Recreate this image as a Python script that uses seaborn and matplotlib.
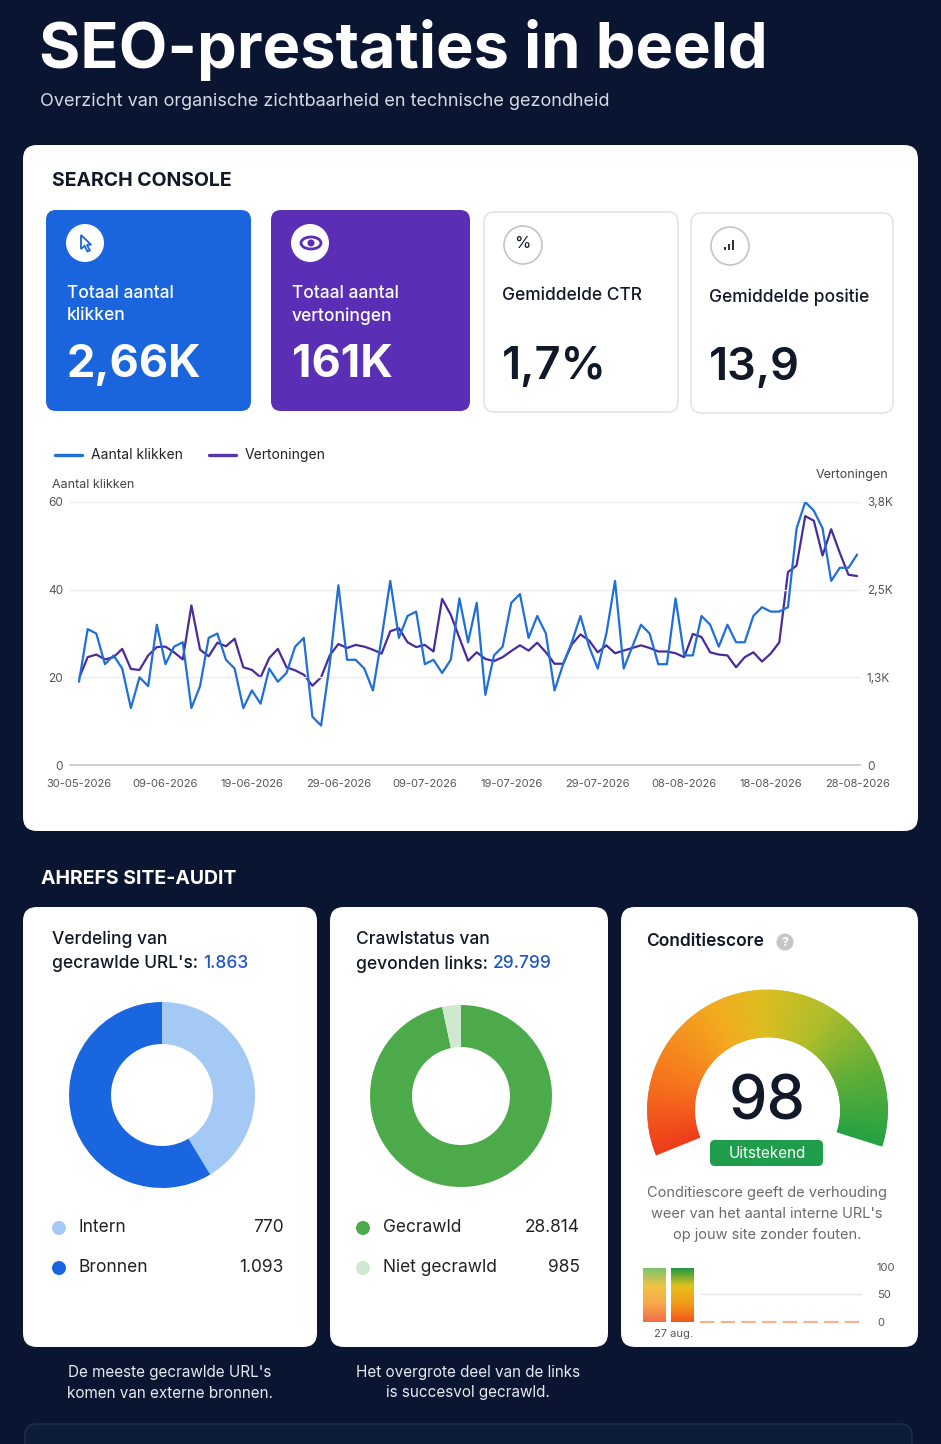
import numpy as np
import pandas as pd
import matplotlib
matplotlib.use("Agg")
import matplotlib.pyplot as plt
import seaborn as sns
from matplotlib.patches import FancyBboxPatch, Circle, Wedge, Polygon, Ellipse, Rectangle
from matplotlib.colors import LinearSegmentedColormap
import matplotlib.dates as mdates

# ---------------- data ----------------
start_date = "2026-05-30"
clicks = [19, 31, 30, 23, 25, 22, 13, 20, 18, 32, 23, 27, 28, 13, 18, 29, 30, 24, 22, 13,
          17, 14, 22, 19, 21, 27, 29, 11, 9, 23, 41, 24, 24, 22, 17, 29, 42, 29, 34, 35,
          23, 24, 21, 24, 38,
          28, 37, 16, 25, 27, 37, 39, 29, 34, 30, 17, 23, 28, 34, 27, 22, 30, 42, 22, 27,
          32, 30, 23, 23, 38, 25, 25, 34, 32, 27, 32, 28, 28, 34, 36, 35, 35, 36, 54, 60,
          58, 54, 42, 45, 45, 48]
impressions = [1254, 1558, 1596, 1526, 1558, 1678, 1387, 1374, 1583, 1704, 1710, 1628, 1526, 2305,
               1666, 1571, 1767, 1716, 1824, 1412, 1374, 1267, 1545, 1678, 1412, 1368, 1305, 1146,
               1267, 1583, 1748, 1691, 1735, 1710, 1666, 1609, 1932, 1976, 1773, 1704, 1735, 1640,
               2400, 2170, 1837,
               1507, 1628, 1533, 1501, 1558, 1647, 1729, 1653, 1767, 1628, 1463, 1463, 1742, 1887,
               1799, 1628, 1729, 1615, 1653, 1691, 1729, 1691, 1640, 1640, 1615, 1558, 1894, 1849,
               1628, 1596, 1583, 1412, 1558, 1628, 1495, 1609, 1773, 2787, 2882, 3597, 3528, 3027,
               3407, 3065, 2749, 2730]
clicks_ticks = [0, 20, 40, 60]
impr_ticks = [0, 1266.67, 2533.33, 3800]
impr_tick_labels = ["0", "1,3K", "2,5K", "3,8K"]

kpi_labels = ["Totaal aantal\nklikken", "Totaal aantal\nvertoningen", "Gemiddelde CTR", "Gemiddelde positie"]
kpi_values = ["2,66K", "161K", "1,7%", "13,9"]

url_labels = ["Intern", "Bronnen"]
url_values = [770, 1093]
link_labels = ["Gecrawld", "Niet gecrawld"]
link_values = [28814, 985]
health_score = 98
score_history = [98, 98]
score_ticks = [0, 50, 100]


def nl(v):
    return f"{v:,}".replace(",", ".")


# ---------------- figure ----------------
W, H = 941, 1444
sns.set_theme(style="white")
plt.rcParams['font.family'] = ['Inter', 'DejaVu Sans']

fig = plt.figure(figsize=(W / 100, H / 100), dpi=100)
fig.patch.set_facecolor('#0a1631')
bg = fig.add_axes([0, 0, 1, 1])
bg.set_xlim(0, W)
bg.set_ylim(H, 0)
bg.axis('off')

DARK = '#111827'


def card(x0, y0, x1, y1, fc='white', ec='none', r=14, lw=1, z=1):
    p = FancyBboxPatch((x0 + r, y0 + r), (x1 - x0 - 2 * r), (y1 - y0 - 2 * r),
                       boxstyle=f"round,pad={r}", fc=fc, ec=ec, lw=lw, zorder=z)
    bg.add_patch(p)
    return p


def ax_at(x0, y0, x1, y1):
    a = fig.add_axes([x0 / W, 1 - y1 / H, (x1 - x0) / W, (y1 - y0) / H])
    a.set_facecolor('none')
    return a


def txt(x, y, s, size, color=DARK, weight='normal', ha='left', va='center', **kw):
    return bg.text(x, y, s, fontsize=size, color=color, fontweight=weight, ha=ha, va=va, **kw)


# header
txt(39, 50, "SEO-prestaties in beeld", 45.5, 'white', 'bold')
txt(40, 102, "Overzicht van organische zichtbaarheid en technische gezondheid", 13, '#d6dae4')

# search console card
card(23, 145, 918, 831, r=14)
txt(52, 181, "SEARCH CONSOLE", 14, DARK, 'bold')

kpi_boxes = [(46, 210, 251, 411, '#1a65dd', 'none'),
             (271, 210, 470, 411, '#5a2eb5', 'none'),
             (484, 212, 678, 412, 'white', '#e2e4e9'),
             (691, 213, 893, 413, 'white', '#e2e4e9')]
for i, (x0, y0, x1, y1, fc, ec) in enumerate(kpi_boxes):
    card(x0, y0, x1, y1, fc=fc, ec=ec, r=10, lw=1.2, z=2)
    tc = 'white' if i < 2 else DARK
    cx, cy = x0 + 39, y0 + 33
    if i < 2:
        bg.add_patch(Circle((cx, cy), 19, fc='white', ec='none', zorder=3))
    else:
        bg.add_patch(Circle((cx, cy), 19, fc='white', ec='#c4c4c4', lw=1.2, zorder=3))
    lines = kpi_labels[i].split("\n")
    if len(lines) == 2:
        for j, ln in enumerate(lines):
            txt(x0 + 21, y0 + 84 + 22 * j, ln, 12.5, tc, 'medium', zorder=4)
    else:
        txt(x0 + 18, y0 + 84, lines[0], 12.5, tc, 'medium', zorder=4)
    txt(x0 + (21 if i < 2 else 18), y0 + 155, kpi_values[i], 32.5,
        tc, 'bold' if i < 2 else 'semibold', zorder=4)

# icons
cx, cy = 86, 243
arrow = np.array([(-5, -8), (-5, 6), (-1.5, 2.8), (1.5, 8.5), (3.8, 7.4), (0.9, 1.8), (5.2, 1.8)])
bg.add_patch(Polygon(arrow + [cx, cy], closed=True, fc='white', ec='#1a65dd', lw=1.3, zorder=4))
cx, cy = 311, 243
bg.add_patch(Ellipse((cx, cy), 20, 12, fc='none', ec='#5a2eb5', lw=2, zorder=4))
bg.add_patch(Circle((cx, cy), 3.5, fc='#5a2eb5', ec='none', zorder=5))
txt(522, 244, "%", 12, DARK, ha='center', zorder=5)
for k, hgt in enumerate([3, 6, 10]):
    bg.add_patch(Rectangle((724 + k * 4, 250 - hgt), 2.4, hgt, fc='#333', ec='none', zorder=5))

# legend of line chart
bg.plot([55, 82], [455, 455], color='#1f6fd8', lw=2.4, solid_capstyle='round', zorder=3)
txt(91, 455, "Aantal klikken", 10, '#222')
bg.plot([209, 236], [455, 455], color='#5a35b0', lw=2.4, solid_capstyle='round', zorder=3)
txt(245, 455, "Vertoningen", 10, '#222')
txt(52, 485, "Aantal klikken", 9, '#444')
txt(888, 475, "Vertoningen", 9, '#444', ha='right')

# line chart
dates = pd.date_range(start_date, periods=len(clicks), freq='D')
df = pd.DataFrame({'Datum': dates, 'Aantal klikken': clicks, 'Vertoningen': impressions})
ax = ax_at(70, 502, 860, 765)
ax2 = ax.twinx()
sns.lineplot(data=df, x='Datum', y='Vertoningen', ax=ax2, color='#4b2a9c', lw=1.6)
sns.lineplot(data=df, x='Datum', y='Aantal klikken', ax=ax, color='#1f6fd8', lw=1.6)
ax.set_zorder(ax2.get_zorder() + 1)
ax.patch.set_visible(False)
t0 = pd.Timestamp(start_date)
ax.set_xlim(t0 - pd.Timedelta(hours=25), t0 + pd.Timedelta(days=len(clicks) - 1, hours=8))
ax.set_ylim(0, 60)
ax2.set_ylim(0, 3800)
ax.set_yticks(clicks_ticks)
ax2.set_yticks(impr_ticks)
ax2.set_yticklabels(impr_tick_labels)
ax.set_xticks(pd.date_range(start_date, periods=10, freq='10D'))
ax.xaxis.set_major_formatter(mdates.DateFormatter('%d-%m-%Y'))
for a in (ax, ax2):
    a.set_xlabel('')
    a.set_ylabel('')
    for s in a.spines.values():
        s.set_visible(False)
ax.spines['bottom'].set_visible(True)
ax.spines['bottom'].set_color('#c9c9c9')
ax.yaxis.grid(True, color='#ececec', lw=1)
ax.set_axisbelow(True)
ax.tick_params(axis='x', length=0, pad=10, labelsize=8, labelcolor='#555')
ax.tick_params(axis='y', length=0, pad=5, labelsize=8.5, labelcolor='#555')
ax2.tick_params(axis='y', length=0, pad=5, labelsize=8.5, labelcolor='#555')
ax2.grid(False)

# ahrefs section
txt(41, 879, "AHREFS SITE-AUDIT", 14, 'white', 'bold')
card(23, 907, 317, 1347, r=14)
card(330, 907, 608, 1347, r=14)
card(621, 907, 918, 1347, r=14)

renderer = fig.canvas.get_renderer()


def two_color(x, y, s1, s2, size):
    t = txt(x, y, s1, size, DARK, 'medium')
    bb = t.get_window_extent(renderer=renderer)
    x_end = bg.transData.inverted().transform((bb.x1, bb.y0))[0]
    txt(x_end + 5, y, s2, size, '#2057c4', 'medium')


txt(52, 939, "Verdeling van", 12.5, DARK, 'medium')
two_color(52, 964, "gecrawlde URL's:", nl(sum(url_values)), 12.5)
txt(356, 939, "Crawlstatus van", 12.5, DARK, 'medium')
two_color(356, 964, "gevonden links:", nl(sum(link_values)), 12.5)

# donuts
url_colors = ['#a3c9f4', '#1a66e0']
link_colors = ['#4caa4a', '#cfe8d0']
for (cx, cy, ro, ri, vals, cols) in [(162, 1095, 93, 51, url_values, url_colors),
                                     (461, 1096, 91, 49, link_values, link_colors)]:
    a = ax_at(cx - ro, cy - ro, cx + ro, cy + ro)
    a.pie(vals, colors=cols, startangle=90, counterclock=False, radius=1,
          wedgeprops=dict(width=(ro - ri) / ro, edgecolor='none'))
    a.set_xlim(-1, 1)
    a.set_ylim(-1, 1)
    a.set_aspect('equal')
    a.axis('off')

# donut legends
for (x_dot, x_lab, x_val, labels, vals, cols) in [(59, 79, 284, url_labels, url_values, url_colors),
                                                  (363, 383, 580, link_labels, link_values, link_colors)]:
    for j, (lab, v, c) in enumerate(zip(labels, vals, cols)):
        y = 1228 + 40 * j
        bg.add_patch(Circle((x_dot, y), 7, fc=c, ec='none', zorder=3))
        txt(x_lab, y, lab, 12.5, '#222')
        txt(x_val, y, nl(v), 12.5, '#222', ha='right')

txt(170, 1373, "De meeste gecrawlde URL's", 11, '#e6e9f0', ha='center')
txt(170, 1393, "komen van externe bronnen.", 11, '#e6e9f0', ha='center')
txt(468, 1373, "Het overgrote deel van de links", 11, '#e6e9f0', ha='center')
txt(468, 1393, "is succesvol gecrawld.", 11, '#e6e9f0', ha='center')

# condition score card
txt(646, 942, "Conditiescore", 12.5, DARK, 'semibold')
bg.add_patch(Circle((785, 942), 8.5, fc='#c6c6c8', ec='none', zorder=3))
txt(785, 942.5, "?", 9, 'white', 'bold', ha='center', zorder=4)

g = ax_at(640, 985, 895, 1175)
g.set_xlim(-127.5, 127.5)
g.set_ylim(-65, 125)
g.set_aspect('equal')
g.axis('off')
gauge_cmap = LinearSegmentedColormap.from_list('gauge', [
    (0.0, '#ee3b17'), (0.18, '#f6761c'), (0.38, '#f3aa1e'), (0.5, '#dcbd1f'),
    (0.65, '#aebd2a'), (0.82, '#5fae36'), (1.0, '#24a042')])
a_start, a_end = 202, -22
span = a_start - a_end
frac = health_score / 100
n = 220
for k in range(n):
    t1 = k / n
    t2 = (k + 1) / n
    th1 = a_start - span * frac * t2
    th2 = a_start - span * frac * t1
    c = gauge_cmap(t1)
    g.add_patch(Wedge((0, 0), 120, th1, th2, width=47, fc=c, ec=c, lw=0.6))
g.text(0, 7, str(health_score), fontsize=44, color=DARK, ha='center', va='center', fontweight='medium')

card(710, 1140, 823, 1166, fc='#1f9d4c', r=5, z=3)
txt(767, 1153, "Uitstekend", 11, 'white', ha='center', zorder=4)
for j, ln in enumerate(["Conditiescore geeft de verhouding",
                        "weer van het aantal interne URL's",
                        "op jouw site zonder fouten."]):
    txt(767, 1193 + 21 * j, ln, 10.5, '#6b6b6b', ha='center')

# mini score history bars
m = ax_at(640, 1262, 870, 1325)
hist_df = pd.DataFrame({'slot': list(range(len(score_history))), 'score': score_history})
sns.barplot(data=hist_df, x='slot', y='score', ax=m, color='#7fbf5a', width=0.8,
            order=list(range(len(score_history))), native_scale=True)
bar_cmaps = [LinearSegmentedColormap.from_list('b1', ['#f46c4c', '#f8a84a', '#f1c246', '#7cc46c']),
             LinearSegmentedColormap.from_list('b2', ['#f2541a', '#f29a1c', '#e6c11c', '#1e9a44'])]
grad = np.linspace(0, 1, 200).reshape(-1, 1)
for patch, cm in zip(m.patches, bar_cmaps):
    x, y = patch.get_x(), patch.get_y()
    w, h = patch.get_width(), patch.get_height()
    im = m.imshow(grad, extent=[x, x + w, y, y + h], origin='lower', aspect='auto', cmap=cm, zorder=3)
    im.set_clip_path(patch)
m.hlines(50, 1.64, 7.41, color='#e6e6e6', lw=1, zorder=1)
m.hlines(0, 1.64, 7.41, color='#f5b28c', lw=1.6, linestyles=(0, (6.5, 2.8)), zorder=2)
m.set_xlim(-0.5, 7.7)
m.set_ylim(-5.5, 109)
m.set_xticks([])
m.yaxis.tick_right()
m.set_yticks(score_ticks)
m.tick_params(axis='y', length=0, pad=5, labelsize=8, labelcolor='#555')
m.set_xlabel('')
m.set_ylabel('')
for s in m.spines.values():
    s.set_visible(False)
txt(674, 1334, "27 aug.", 8, '#555', ha='center')

# partially visible bottom card
card(25, 1424, 912, 1480, fc='#0e1c3b', ec='#1d2c4f', r=12, lw=1.2)

fig.savefig('out.png', dpi=100, facecolor=fig.get_facecolor())
